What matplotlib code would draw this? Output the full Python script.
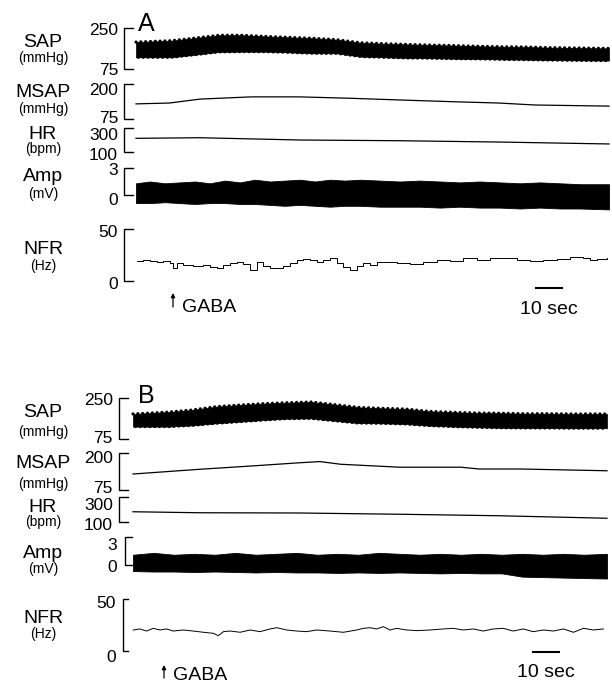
import numpy as np
import matplotlib.pyplot as plt
from matplotlib import transforms

plt.rcParams['font.family'] = ['Liberation Sans', 'DejaVu Sans']

W, H = 612, 683
T = 185.0  # seconds shown in each record

# ---------------- data ----------------
# SAP: systolic / diastolic envelope (mmHg)
sap_t = [0, 13.9, 23.1, 32.4, 41.6, 50.9, 60.1, 69.4, 78.6, 87.9,
         97.1, 106.4, 115.6, 124.9, 134.1, 143.4, 152.6, 161.9, 171.1, 185]
sapA_sys = [190, 196, 207, 219, 219, 214, 210, 206, 200, 187,
            183, 180, 177, 175, 172, 170, 169, 166, 165, 163]
sapA_dia = [125, 125, 136, 148, 149, 149, 146, 142, 142, 128,
            125, 122, 121, 119, 118, 116, 115, 113, 112, 111]
sapB_sys = [182, 190, 199, 213, 220, 226, 230, 233, 222, 210,
            206, 203, 193, 189, 186, 185, 183, 183, 182, 182]
sapB_dia = [128, 128, 133, 142, 149, 156, 162, 163, 153, 143,
            142, 139, 132, 128, 125, 123, 122, 122, 121, 121]

# mean SAP (mmHg)
msapA_t = [0, 13, 25, 45, 64, 84, 103, 123, 142, 156, 185]
msapA = [129, 132, 146, 154, 154, 149, 143, 137, 132, 125, 121]
msapB_t = [0, 26, 46, 65, 73, 81, 104, 128, 135, 151, 185]
msapB = [129, 145, 156, 167, 171, 162, 152, 152, 146, 146, 140]

# heart rate (bpm)
hrA_t = [0, 25, 64, 103, 142, 185]
hrA = [214, 219, 200, 194, 183, 167]
hrB_t = [0, 26, 65, 104, 143, 185]
hrB = [182, 174, 172, 162, 150, 130]

# nerve amplitude envelope (mV)
ampA_t = [0, 5.5, 11.3, 17.2, 23.1, 28.9, 34.8, 40.7, 46.5, 52.4, 58.3, 64.1, 70.0, 75.9,
          81.7, 87.6, 95.4, 103.2, 111.0, 118.9, 126.7, 134.5, 142.4, 150.2, 158.0, 165.8, 173.6, 185]
ampA_hi = [1.3, 1.5, 1.3, 1.4, 1.5, 1.3, 1.6, 1.4, 1.7, 1.5, 1.6, 1.7, 1.5, 1.7,
           1.6, 1.7, 1.6, 1.5, 1.6, 1.5, 1.4, 1.5, 1.4, 1.3, 1.4, 1.3, 1.2, 1.2]
ampA_lo = [-0.9, -0.9, -0.8, -0.9, -1.0, -0.9, -0.9, -1.0, -1.0, -1.1, -1.2, -1.1, -1.2, -1.3,
           -1.2, -1.2, -1.3, -1.3, -1.3, -1.4, -1.3, -1.4, -1.4, -1.5, -1.4, -1.5, -1.5, -1.6]
ampB_t = [0, 8, 16, 24, 32, 40, 48, 56, 64, 72, 80, 88, 96, 104, 112, 120, 128, 136,
          144, 152, 160, 168, 176, 185]
ampB_hi = [1.1, 1.3, 1.1, 1.2, 1.1, 1.3, 1.1, 1.2, 1.3, 1.1, 1.2, 1.1, 1.3, 1.2, 1.1, 1.2, 1.1, 1.2,
           1.1, 1.2, 1.1, 1.2, 1.1, 1.2]
ampB_lo = [-0.65, -0.7, -0.7, -0.75, -0.7, -0.75, -0.8, -0.75, -0.8, -0.8, -0.85, -0.8, -0.85, -0.8,
           -0.85, -0.9, -0.85, -0.9, -0.9, -1.25, -1.3, -1.35, -1.4, -1.45]

# nerve firing rate (Hz)
nfrA_t = [0.3, 2.9, 5.5, 8.1, 10.7, 13.3, 14.6, 15.9, 18.5, 22.4, 26.3, 29.0, 31.5, 34.2,
          36.8, 39.4, 42.0, 44.6, 47.2, 49.8, 52.4, 55.0, 57.6, 60.2, 62.8, 65.4, 68.0, 70.7,
          73.3, 75.9, 78.5, 81.1, 83.7, 86.3, 88.9, 91.5, 94.1, 96.7, 102.0, 107.2, 112.4, 117.6,
          122.8, 128.0, 133.2, 138.4, 143.7, 148.9, 154.1, 159.3, 164.5, 169.7, 174.9, 177.6, 180.2, 184.1]
nfrA = [19.2, 20.2, 19.2, 18.6, 19.6, 17.0, 12.8, 17.0, 15.4, 14.7, 15.4, 13.8, 12.2, 15.4,
        17.0, 18.6, 16.0, 10.6, 18.6, 14.7, 12.8, 12.2, 14.7, 17.0, 20.2, 21.2, 20.2, 18.6,
        20.2, 22.4, 17.0, 13.8, 10.6, 14.7, 17.0, 15.4, 18.6, 18.0, 17.0, 16.0, 18.6, 20.2,
        19.6, 21.8, 20.2, 21.8, 22.4, 20.2, 19.2, 20.2, 21.2, 23.4, 22.4, 20.2, 21.2, 21.8]
nfrB_t = [0.1, 2.7, 5.3, 7.9, 10.5, 13.1, 15.7, 19.6, 23.5, 27.5, 31.4, 33.3, 35.3, 37.9,
          41.8, 45.7, 49.6, 53.5, 56.1, 60.0, 63.9, 67.8, 71.7, 76.9, 82.1, 87.3, 89.9, 92.5,
          95.1, 97.7, 100.3, 102.9, 106.8, 110.7, 115.9, 121.1, 125.0, 128.9, 132.8, 136.7,
          140.6, 144.5, 148.4, 152.3, 156.2, 160.2, 164.1, 168.0, 171.9, 175.8, 179.7, 183.6]
nfrB = [20.2, 21.2, 19.2, 21.8, 20.2, 21.2, 19.2, 20.2, 19.2, 18.0, 17.0, 14.7, 18.6, 19.2,
        18.0, 20.2, 18.6, 21.2, 22.4, 20.2, 19.2, 18.6, 20.2, 19.2, 18.0, 20.2, 21.8, 22.4,
        21.2, 23.4, 20.2, 21.8, 20.2, 19.6, 20.2, 21.2, 21.8, 20.2, 21.2, 19.2, 21.2, 21.8,
        19.2, 21.2, 18.6, 20.2, 19.2, 21.2, 18.0, 21.8, 20.2, 21.2]

names = ['SAP', 'MSAP', 'HR', 'Amp', 'NFR']
units = ['(mmHg)', '(mmHg)', '(bpm)', '(mV)', '(Hz)']
ranges = [(75, 250), (75, 200), (100, 300), (0, 3), (0, 50)]

# ---------------- layout (figure pixels, y from top) ----------------
layout = {
    'A': dict(x0=136, x1=609,
              rows=[(28, 69), (84, 119), (128, 152), (168, 195), (229, 281)],
              bx=[124] * 5, tx=[133] * 5,
              num_x=[118] * 5,
              num_y=[(35, 75), (95, 123), (140, 160), (175, 205), (237, 289)],
              name_y=[47, 97, 139, 181, 254], unit_y=[62, 113, 153, 198, 270],
              letter=(146, 31), gaba=(173, 293, 307, 182, 312),
              bar=(288, 549, 314)),
    'B': dict(x0=133, x1=607,
              rows=[(398, 439), (453, 490), (497, 522), (537, 565), (599, 651)],
              bx=[119, 119, 119, 125, 123], tx=[128, 128, 128, 132, 128],
              num_x=[113, 113, 113, 117, 116],
              num_y=[(405, 443), (463, 493), (510, 530), (550, 572), (608, 662)],
              name_y=[417, 468, 512, 558, 623], unit_y=[436, 488, 526, 573, 638],
              letter=(146, 403), gaba=(164, 665, 678, 173, 680),
              bar=(652, 546, 677)),
}

data = {
    'A': dict(sys=sapA_sys, dia=sapA_dia, msap=(msapA_t, msapA), hr=(hrA_t, hrA),
              amp=(ampA_t, ampA_lo, ampA_hi), nfr=(nfrA_t, nfrA), steps=True),
    'B': dict(sys=sapB_sys, dia=sapB_dia, msap=(msapB_t, msapB), hr=(hrB_t, hrB),
              amp=(ampB_t, ampB_lo, ampB_hi), nfr=(nfrB_t, nfrB), steps=False),
}

fig = plt.figure(figsize=(W / 100, H / 100), dpi=100)


def fx(px):
    return px / W


def fy(py):
    return 1 - py / H


for key in ['A', 'B']:
    L = layout[key]
    D = data[key]
    axes = []
    for i, (ytop, ybot) in enumerate(L['rows']):
        vbot, vtop = ranges[i]
        ax = fig.add_axes([fx(L['x0']), fy(ybot), fx(L['x1']) - fx(L['x0']), fy(ytop) - fy(ybot)])
        ax.set_xlim(0, T)
        ax.set_ylim(vbot, vtop)
        ax.axis('off')
        # scale bracket
        tr = ax.get_yaxis_transform()
        a = (L['bx'][i] - L['x0']) / (L['x1'] - L['x0'])
        b = (L['tx'][i] - L['x0']) / (L['x1'] - L['x0'])
        ax.plot([b, a, a, b], [vtop, vtop, vbot, vbot], color='k', lw=1.0,
                transform=tr, clip_on=False, solid_joinstyle='miter')
        # labels
        fig.text(fx(43), fy(L['name_y'][i]), names[i], ha='center', va='baseline', fontsize=14)
        fig.text(fx(43), fy(L['unit_y'][i]), units[i], ha='center', va='baseline', fontsize=10)
        ytxt_top, ytxt_bot = L['num_y'][i]
        fig.text(fx(L['num_x'][i]), fy(ytxt_top), str(vtop), ha='right', va='baseline', fontsize=12.5)
        fig.text(fx(L['num_x'][i]), fy(ytxt_bot), str(vbot), ha='right', va='baseline', fontsize=12.5)
        axes.append(ax)

    ax_sap, ax_msap, ax_hr, ax_amp, ax_nfr = axes

    # pulsatile pressure band; round dots along the edges give the beat scallops
    ax_sap.fill_between(sap_t, D['dia'], D['sys'], color='k', lw=0.5, clip_on=False)
    ax_sap.plot(sap_t, D['sys'], color='k', lw=2.3, ls=(0, (0.01, 1.5)),
                dash_capstyle='round', clip_on=False)
    ax_sap.plot(sap_t, D['dia'], color='k', lw=2.3, ls=(0.75, (0.01, 1.5)),
                dash_capstyle='round', clip_on=False)

    ax_msap.plot(D['msap'][0], D['msap'][1], color='k', lw=0.9, clip_on=False)
    ax_hr.plot(D['hr'][0], D['hr'][1], color='k', lw=0.9, clip_on=False)

    at, alo, ahi = D['amp']
    ax_amp.fill_between(at, alo, ahi, color='k', lw=0.6, clip_on=False)

    if D['steps']:
        ax_nfr.plot(D['nfr'][0], D['nfr'][1], color='k', lw=0.7, drawstyle='steps-post', clip_on=False)
    else:
        ax_nfr.plot(D['nfr'][0], D['nfr'][1], color='k', lw=0.7, clip_on=False)

    # panel letter
    lx, ly = L['letter']
    fig.text(fx(lx), fy(ly), key, ha='center', va='baseline', fontsize=18)

    # GABA arrow
    gx, ghead, gtail, gtx, gty = L['gaba']
    ax_nfr.annotate('', xy=(fx(gx), fy(ghead)), xytext=(fx(gx), fy(gtail)),
                    xycoords='figure fraction', textcoords='figure fraction',
                    arrowprops=dict(arrowstyle='-|>', lw=0.9, color='k', mutation_scale=6,
                                    shrinkA=0, shrinkB=0))
    fig.text(fx(gtx), fy(gty), 'GABA', ha='left', va='baseline', fontsize=14)

    # 10 s scale bar
    by, btx, bty = L['bar']
    trb = transforms.blended_transform_factory(ax_nfr.transData, fig.transFigure)
    t0 = (btx - 13 - L['x0']) / (L['x1'] - L['x0']) * T
    ax_nfr.plot([t0, t0 + 10], [fy(by), fy(by)], color='k', lw=1.5, transform=trb, clip_on=False)
    fig.text(fx(btx), fy(bty), '10 sec', ha='center', va='baseline', fontsize=14)

fig.savefig('out.png', dpi=100)
